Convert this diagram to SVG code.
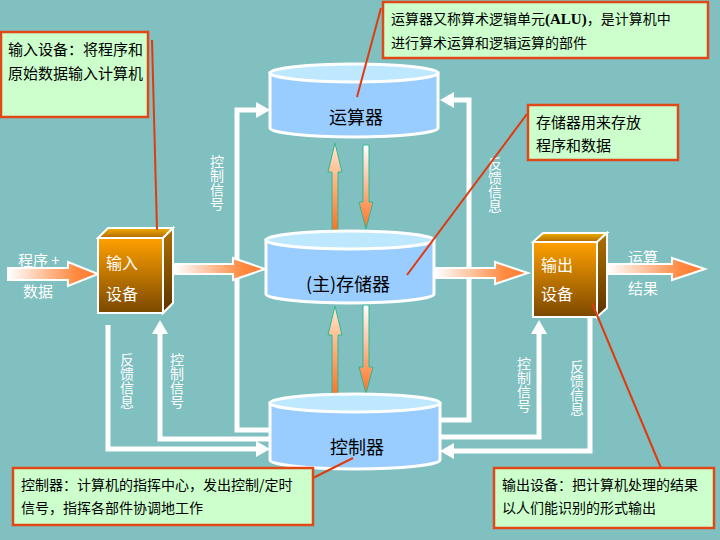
<svg xmlns="http://www.w3.org/2000/svg" width="720" height="540" viewBox="0 0 720 540">
<defs>
<linearGradient id="gArrowH" x1="0" y1="0" x2="1" y2="0">
<stop offset="0" stop-color="#FFFFFF"/>
<stop offset="0.75" stop-color="#FF8A40"/>
<stop offset="1" stop-color="#FF7A30"/>
</linearGradient>
<linearGradient id="gUp" x1="0" y1="0" x2="0" y2="1">
<stop offset="0" stop-color="#FFE8D0"/>
<stop offset="1" stop-color="#FF7020"/>
</linearGradient>
<linearGradient id="gDown" x1="0" y1="0" x2="0" y2="1">
<stop offset="0" stop-color="#FFFFFF"/>
<stop offset="1" stop-color="#FF7020"/>
</linearGradient>
<linearGradient id="gFront" x1="0" y1="0" x2="0" y2="1">
<stop offset="0" stop-color="#FFA000"/>
<stop offset="1" stop-color="#7A4800"/>
</linearGradient>
<linearGradient id="gTop" x1="0" y1="0" x2="0" y2="1">
<stop offset="0" stop-color="#F0B000"/>
<stop offset="1" stop-color="#B06800"/>
</linearGradient>
<linearGradient id="gSide" x1="0" y1="0" x2="0" y2="1">
<stop offset="0" stop-color="#B07000"/>
<stop offset="1" stop-color="#5A3400"/>
</linearGradient>
</defs>
<style>
.cjk{font-family:"Noto Sans CJK SC","Liberation Sans",sans-serif}
.cyl-body{fill:#99CCFF;stroke:#FFFFFF;stroke-width:3}
.cyl-top{fill:#BDE8FF;stroke:#FFFFFF;stroke-width:3}
.cyl-text{font-size:18px;fill:#000000;text-anchor:middle}
.cube-front{fill:url(#gFront);stroke:#FFFFFF;stroke-width:2}
.cube-top{fill:url(#gTop);stroke:#FFFFFF;stroke-width:2}
.cube-side{fill:url(#gSide);stroke:#FFFFFF;stroke-width:2}
.cube-text{font-size:16px;fill:#FFFFFF}
.callout{fill:#CCFFCC;stroke:#E04818;stroke-width:2.5}
.ctext{fill:#000000}
.wtext{fill:#FFFFFF;font-size:15px}
.vlabel{fill:#FFFFFF;font-size:14px;writing-mode:vertical-rl}
.wire{fill:none;stroke:#FFFFFF;stroke-width:5}
.head{fill:#FFFFFF}
.fat{fill:url(#gArrowH);stroke:#FFFFFF;stroke-width:2}
.thin-up{fill:url(#gUp);stroke:#30B890;stroke-width:1}
.thin-down{fill:url(#gDown);stroke:#30B890;stroke-width:1}
.ptr{stroke:#E03A10;stroke-width:2;fill:none}
</style>
<rect x="0" y="0" width="720" height="540" fill="#80C0C0"/>

<g id="connectors">
<path class="wire" d="M258 110 L237 110 L237 430 L270 430"/>
<polygon class="head" points="256,102 270,110 256,118"/>
<path class="wire" d="M452 100 L469 100 L469 420 L438 420"/>
<polygon class="head" points="454,92 440,100 454,108"/>
<path class="wire" d="M108 325 L108 449 L258 449"/>
<polygon class="head" points="256,441 270,449 256,457"/>
<path class="wire" d="M160 332 L160 439 L270 439"/>
<polygon class="head" points="152,334 160,320 168,334"/>
<path class="wire" d="M539 332 L539 437 L438 437"/>
<polygon class="head" points="531,334 539,320 547,334"/>
<path class="wire" d="M590 318 L590 451 L452 451"/>
<polygon class="head" points="454,443 440,451 454,459"/>

<polygon class="fat" points="8,268 68,268 68,262 98,274 68,286 68,280 8,280"/>
<polygon class="fat" points="175,264 233,264 233,258 265,269 233,280 233,274 175,274"/>
<polygon class="fat" points="436,268 495,268 495,262 528,273 495,284 495,278 436,278"/>
<polygon class="fat" points="608,264 672,264 672,258 705,269 672,280 672,274 608,274"/>

<polygon class="thin-up" points="335,143 342,172 338,172 338,230 332,230 332,172 328,172"/>
<polygon class="thin-down" points="363,145 369,145 369,202 373,202 366,229 359,202 363,202"/>
<polygon class="thin-up" points="335,306 342,335 338,335 338,396 332,396 332,335 328,335"/>
<polygon class="thin-down" points="363,305 369,305 369,367 373,367 366,394 359,367 363,367"/>

<text class="cjk vlabel" x="217" y="155">控制信号</text>
<text class="cjk vlabel" x="495" y="157">反馈信息</text>
<text class="cjk vlabel" x="127" y="353">反馈信息</text>
<text class="cjk vlabel" x="177" y="353">控制信号</text>
<text class="cjk vlabel" x="524" y="357">控制信号</text>
<text class="cjk vlabel" x="577" y="360">反馈信息</text>

<text class="cjk wtext" x="18" y="266">程序 +</text>
<text class="cjk wtext" x="38" y="297" text-anchor="middle">数据</text>
<text class="cjk wtext" x="643" y="263" text-anchor="middle">运算</text>
<text class="cjk wtext" x="643" y="294" text-anchor="middle">结果</text>
</g>

<g id="alu">
<path class="cyl-body" d="M270 73 L270 128 A84 9 0 0 0 438 128 L438 73 Z"/>
<ellipse class="cyl-top" cx="354" cy="73" rx="84" ry="9"/>
<text class="cjk cyl-text" x="356" y="124">运算器</text>
</g>

<g id="memory">
<path class="cyl-body" d="M266 240 L266 294 A84 9 0 0 0 434 294 L434 240 Z"/>
<ellipse class="cyl-top" cx="350" cy="240" rx="84" ry="9"/>
<text class="cjk cyl-text" x="348" y="291">(主)存储器</text>
</g>

<g id="controller">
<path class="cyl-body" d="M270 403 L270 460 A85 9 0 0 0 440 460 L440 403 Z"/>
<ellipse class="cyl-top" cx="355" cy="403" rx="85" ry="9"/>
<text class="cjk cyl-text" x="357" y="454">控制器</text>
</g>

<g id="input-device">
<polygon class="cube-top" points="98,238 108,228 173,228 163,238"/>
<polygon class="cube-side" points="163,238 173,228 173,303 163,313"/>
<rect class="cube-front" x="98" y="238" width="65" height="75"/>
<text class="cjk cube-text" x="106" y="269">输入</text>
<text class="cjk cube-text" x="106" y="300">设备</text>
</g>

<g id="output-device">
<polygon class="cube-top" points="533,242 543,233 607,233 597,242"/>
<polygon class="cube-side" points="597,242 607,233 607,308 597,317"/>
<rect class="cube-front" x="533" y="242" width="64" height="75"/>
<text class="cjk cube-text" x="541" y="271">输出</text>
<text class="cjk cube-text" x="541" y="300">设备</text>
</g>

<g id="pointers">
<line class="ptr" x1="152" y1="40" x2="157" y2="230"/>
<line class="ptr" x1="381" y1="8" x2="357" y2="97"/>
<line class="ptr" x1="527" y1="114" x2="407" y2="275"/>
<line class="ptr" x1="313" y1="478" x2="353" y2="458"/>
<line class="ptr" x1="661" y1="468" x2="592" y2="303"/>
</g>

<g id="note-input">
<rect class="callout" x="1" y="32" width="147" height="85"/>
<text class="cjk ctext" x="8" y="55" font-size="15">输入设备：将程序和</text>
<text class="cjk ctext" x="8" y="79" font-size="15">原始数据输入计算机</text>
</g>

<g id="note-alu">
<rect class="callout" x="383" y="2" width="325" height="56"/>
<text class="cjk ctext" x="391" y="24" font-size="14">运算器又称算术逻辑单元<tspan font-family="Liberation Serif" font-weight="bold" font-size="15">(ALU)</tspan>，是计算机中</text>
<text class="cjk ctext" x="391" y="48" font-size="14">进行算术运算和逻辑运算的部件</text>
</g>

<g id="note-memory">
<rect class="callout" x="528" y="105" width="150" height="55"/>
<text class="cjk ctext" x="536" y="128" font-size="15">存储器用来存放</text>
<text class="cjk ctext" x="536" y="151" font-size="15">程序和数据</text>
</g>

<g id="note-controller">
<rect class="callout" x="13" y="468" width="300" height="57"/>
<text class="cjk ctext" x="21" y="490" font-size="14">控制器：计算机的指挥中心，发出控制/定时</text>
<text class="cjk ctext" x="21" y="513" font-size="14">信号，指挥各部件协调地工作</text>
</g>

<g id="note-output">
<rect class="callout" x="494" y="468" width="220" height="60"/>
<text class="cjk ctext" x="502" y="490" font-size="14">输出设备：把计算机处理的结果</text>
<text class="cjk ctext" x="502" y="513" font-size="14">以人们能识别的形式输出</text>
</g>
</svg>
